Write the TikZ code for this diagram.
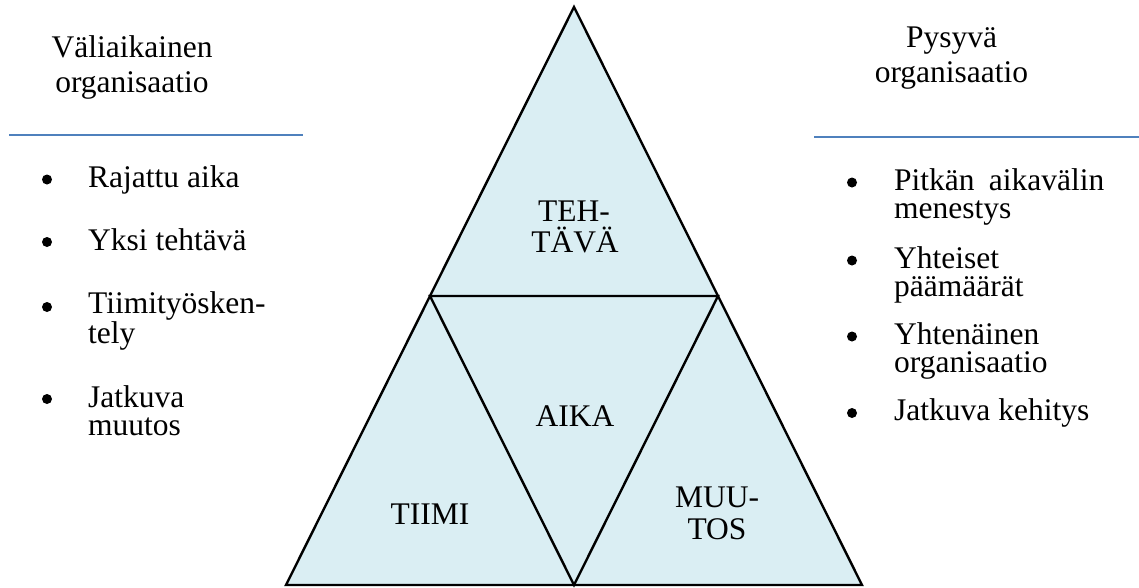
\documentclass[tikz,border=0pt]{standalone}
\usepackage{fontspec}
\setmainfont{Liberation Serif}
\definecolor{trifill}{HTML}{DAEEF3}
\definecolor{sepblue}{HTML}{4F81BD}
\begin{document}
\begin{tikzpicture}[x=1pt,y=-1pt,
  txt/.style={inner sep=0pt,font=\fontsize{31.5}{36}\selectfont},
  lbl/.style={txt,anchor=base west},
  mlbl/.style={inner sep=0pt,anchor=base west,align=left,font=\fontsize{31.5}{28.5}\selectfont},
  ctr/.style={txt,anchor=base},
  bul/.style={circle,fill=black,inner sep=0pt,minimum size=10pt},
  sep/.style={draw=sepblue,line width=1.8pt},
  tri/.style={draw=black,line width=2.4pt,line join=miter}]
\useasboundingbox (0,0) rectangle (1139,587);
% triangle geometry
\coordinate (A) at (574,7);
\coordinate (BL) at (286,585);
\coordinate (BR) at (862,585);
\coordinate (ML) at (430,296);
\coordinate (MR) at (718,296);
\coordinate (MB) at (574,585);
\fill[trifill] (A) -- (BL) -- (BR) -- cycle;
\draw[tri] (A) -- (BL) -- (BR) -- cycle;
\draw[tri] (ML) -- (MR) -- (MB) -- cycle;
% triangle labels
\node[ctr] (teh1) at (574,221) {TEH-};
\node[ctr] (teh2) at (575,252) {TÄVÄ};
\node[ctr] (aika) at (575,426) {AIKA};
\node[ctr] (tiimi) at (430,524) {TIIMI};
\node[ctr] (muu1) at (717,507) {MUU-};
\node[ctr] (muu2) at (717,539) {TOS};
% left header
\node[ctr] (lh1) at (132,57) {Väliaikainen};
\node[ctr] (lh2) at (132,92) {organisaatio};
\coordinate (ls1) at (9,135);
\coordinate (ls2) at (303,135);
\draw[sep] (ls1) -- (ls2);
% left list
\node[bul] (lb1) at (47,179.5) {};
\node[lbl] (l1) at (88,187.5) {Rajattu aika};
\node[bul] (lb2) at (47,242) {};
\node[lbl] (l2) at (88,250) {Yksi tehtävä};
\node[bul] (lb3) at (47,307) {};
\node[mlbl] (l3) at (88,343.5) {Tiimityösken-\\tely};
\node[bul] (lb4) at (47,399) {};
\node[mlbl] (l4) at (88,435.5) {Jatkuva\\muutos};
% right header
\node[ctr] (rh1) at (951.5,47) {Pysyvä};
\node[ctr] (rh2) at (951.5,82) {organisaatio};
\coordinate (rs1) at (814,137);
\coordinate (rs2) at (1139,137);
\draw[sep] (rs1) -- (rs2);
% right list
\node[bul] (rb1) at (852,182.5) {};
\node[mlbl] (r1) at (894,218.5) {Pitkän\hspace{0.45em}aikavälin\\menestys};
\node[bul] (rb2) at (852,260.5) {};
\node[mlbl] (r2) at (894,296.5) {Yhteiset\\päämäärät};
\node[bul] (rb3) at (852,336.5) {};
\node[mlbl] (r3) at (894,372.5) {Yhtenäinen\\organisaatio};
\node[bul] (rb4) at (852,413) {};
\node[lbl] (r4) at (894,420.5) {Jatkuva kehitys};
\end{tikzpicture}
\end{document}
